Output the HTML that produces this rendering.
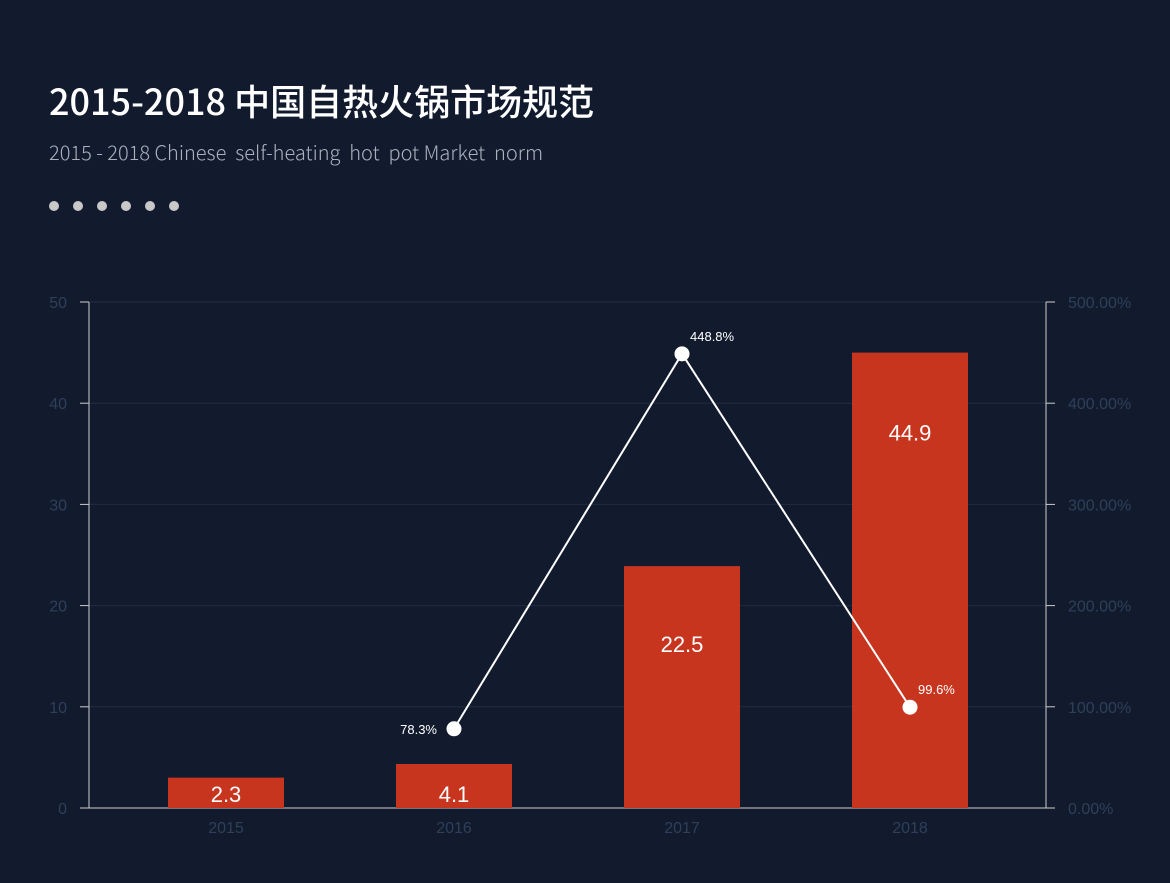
<!DOCTYPE html>
<html><head><meta charset="utf-8"><style>
body{margin:0;width:1170px;height:883px;background:#121b2e;overflow:hidden;font-family:"Liberation Sans","Noto Sans CJK SC",sans-serif}
#title{position:absolute;left:49px;top:74px;color:#fff;font-size:36px;font-family:"Noto Sans CJK SC","Liberation Sans",sans-serif;font-weight:500}
#sub{position:absolute;left:49px;top:137px;color:#aab1bd;font-size:20px;font-family:"Noto Sans CJK SC","Liberation Sans",sans-serif;font-weight:300}
.dot{position:absolute;top:201px;width:10px;height:10px;border-radius:50%;background:#c8c8c8}
svg{position:absolute;left:0;top:0}
</style></head><body>
<div id="title">2015-2018 中国自热火锅市场规范</div>
<div id="sub">2015 - 2018 Chinese&nbsp; self-heating&nbsp; hot&nbsp; pot Market&nbsp; norm</div>
<div>
<div class="dot" style="left:49px"></div>
<div class="dot" style="left:73px"></div>
<div class="dot" style="left:97px"></div>
<div class="dot" style="left:121px"></div>
<div class="dot" style="left:145px"></div>
<div class="dot" style="left:169px"></div>
</div>
<svg id="chart" width="1170" height="883"></svg>
<script>
const categories=['2015','2016','2017','2018'];
const barValues=[3.0,4.35,23.9,45.0];
const barLabels=['2.3','4.1','22.5','44.9'];
const lineValues=[null,78.3,448.8,99.6];
const leftTicks=[0,10,20,30,40,50];
const rightTicks=['0.00%','100.00%','200.00%','300.00%','400.00%','500.00%'];
const NS='http://www.w3.org/2000/svg';
const svg=document.getElementById('chart');
const X0=89,X1=1046,Y0=808,Y1=302;
const yL=v=>Y0-(v/50)*(Y0-Y1);
const yR=v=>Y0-(v/500)*(Y0-Y1);
const xC=i=>226+228*i;
function mk(t,a,txt){const e=document.createElementNS(NS,t);for(const k in a)e.setAttribute(k,a[k]);if(txt!=null)e.textContent=txt;svg.appendChild(e);return e;}
leftTicks.forEach((v,i)=>{
 const y=yL(v);
 if(v>0){const g=mk('line',{x1:X0,x2:X1,y1:y,y2:y,stroke:'#1f2d40','stroke-width':1});}
 const t1=mk('line',{x1:X0-9,x2:X0,y1:y,y2:y,stroke:'#ccc'});
 const t2=mk('line',{x1:X1,x2:X1+9,y1:y,y2:y,stroke:'#ccc'});
 const l=mk('text',{x:X0-22,y:y+6,'text-anchor':'end',fill:'#2e3f58','font-size':16},v);
 const r=mk('text',{x:X1+22,y:y+6,fill:'#2e3f58','font-size':16},rightTicks[i]);
});
let a=mk('line',{x1:X0,x2:X0,y1:Y1,y2:Y0,stroke:'#ccc'});
a=mk('line',{x1:X1,x2:X1,y1:Y1,y2:Y0,stroke:'#ccc'});
a=mk('line',{x1:X0,x2:X1,y1:Y0,y2:Y0,stroke:'#ccc'});
categories.forEach((c,i)=>{
 const x=xC(i),y=yL(barValues[i]);
 const b=mk('rect',{x:x-58,y:y,width:116,height:Y0-y,fill:'#c8351f'});
 const ly=(Y0-y)<60?Y0-6:y+Math.min(82,(Y0-y)*0.33)+6;
 const t=mk('text',{x:x,y:ly,'text-anchor':'middle',fill:'#fff','font-size':22},barLabels[i]);
 const xl=mk('text',{x:x,y:833,'text-anchor':'middle',fill:'#2e3f58','font-size':16},c);
});
const pts=[];lineValues.forEach((v,i)=>{if(v!=null)pts.push([xC(i),yR(v),v,i]);});
const pl=mk('polyline',{points:pts.map(p=>p[0]+','+p[1]).join(' '),fill:'none',stroke:'#fff','stroke-width':2});
pts.forEach(p=>{
 const c=mk('circle',{cx:p[0],cy:p[1],r:7.5,fill:'#fff'});
 const left=p[3]===1;
 const t=mk('text',{x:left?p[0]-17:p[0]+8,y:left?p[1]+5:p[1]-13,'text-anchor':left?'end':'start',fill:'#fff','font-size':13},p[2].toFixed(1)+'%');
});
</script>
</body></html>
